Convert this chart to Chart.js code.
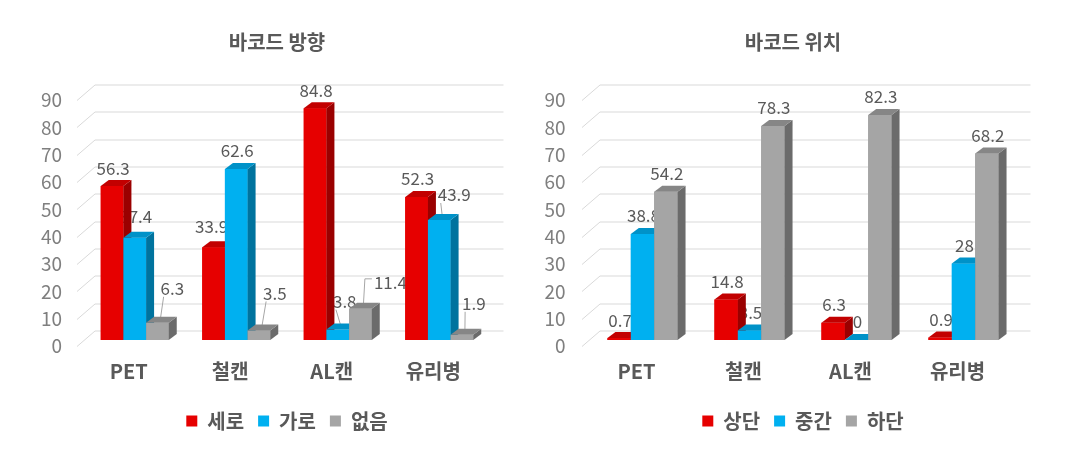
<!DOCTYPE html>
<html>
<head>
<meta charset="utf-8">
<script src="https://cdn.jsdelivr.net/npm/chart.js@4.4.0/dist/chart.umd.min.js"></script>
<style>
  html, body { margin: 0; padding: 0; background: #fff; }
  #wrap { position: relative; width: 1080px; height: 459px; }
  canvas { position: absolute; top: 0; }
</style>
</head>
<body>
<div id="wrap">
  <canvas id="chart-direction" width="540" height="459" style="left:0"></canvas>
  <canvas id="chart-position" width="540" height="459" style="left:540px"></canvas>
</div>
<script>
// 공통 카테고리
var categories = ['PET', '철캔', 'AL캔', '유리병'];

// 바코드 방향 (%)
var directionTitle = '바코드 방향';
var directionSeries = ['세로', '가로', '없음'];
var directionVertical = [56.3, 33.9, 84.8, 52.3];
var directionHorizontal = [37.4, 62.6, 3.8, 43.9];
var directionNone = [6.3, 3.5, 11.4, 1.9];

// 바코드 위치 (%)
var positionTitle = '바코드 위치';
var positionSeries = ['상단', '중간', '하단'];
var positionTop = [0.7, 14.8, 6.3, 0.9];
var positionMiddle = [38.8, 3.5, 0, 28];
var positionBottom = [54.2, 78.3, 82.3, 68.2];

// y축 눈금
var yMax = 90;
var yStep = 10;

var FONT = "'Noto Sans CJK KR', 'Noto Sans', sans-serif";
var frontColors = ['#e60000', '#00b0f0', '#a5a5a5'];
var sideColors = ['#9a0000', '#00739e', '#6b6b6b'];
var topColors = ['#c20000', '#0092c8', '#868686'];

function fillPoly(ctx, pts, color) {
  ctx.fillStyle = color;
  ctx.beginPath();
  ctx.moveTo(pts[0][0], pts[0][1]);
  for (var i = 1; i < pts.length; i++) ctx.lineTo(pts[i][0], pts[i][1]);
  ctx.closePath();
  ctx.fill();
}

// 3D 막대, 뒷벽 눈금선, 데이터 레이블, 제목
var bar3d = {
  id: 'bar3d',
  beforeDatasetsDraw: function (chart) {
    var o = chart.options.plugins.bar3d;
    var ctx = chart.ctx, area = chart.chartArea, y = chart.scales.y;
    ctx.save();
    ctx.strokeStyle = '#d9d9d9';
    ctx.lineWidth = 1;
    y.ticks.forEach(function (t) {
      var py = Math.round(y.getPixelForValue(t.value)) + 0.5;
      ctx.beginPath();
      ctx.moveTo(area.left + o.gridFront, py + o.gridDown);
      ctx.lineTo(area.left + o.gridBack, py - o.gridUp);
      ctx.lineTo(area.right + o.gridRight, py - o.gridUp);
      ctx.stroke();
    });

    // 레이블은 막대 아래에 그림 (원본처럼 막대에 일부 가려짐)
    ctx.font = '17px ' + FONT;
    ctx.textAlign = 'center';
    ctx.textBaseline = 'middle';
    chart.data.datasets.forEach(function (ds, s) {
      chart.getDatasetMeta(s).data.forEach(function (bar, c) {
        var off = o.labelShift ? o.labelShift[s][c] : [0, 0];
        var text = String(ds.data[c]);
        var lx = bar.x + 1 + off[0];
        var ly = bar.y - 18 + off[1];
        var w = ctx.measureText(text).width;
        if (off[2]) {
          ctx.strokeStyle = '#a6a6a6';
          ctx.beginPath();
          if (off[0] > 20) {
            ctx.moveTo(lx - w / 2 - 2, ly - 4);
            ctx.lineTo(lx - w / 2 - 9, ly - 4);
          } else {
            ctx.moveTo(lx - w / 2 + 3, ly + 8);
          }
          ctx.lineTo(bar.x + 3, bar.y - 4);
          ctx.stroke();
        }
        ctx.fillStyle = '#595959';
        ctx.fillText(text, lx, ly);
      });
    });
    ctx.restore();
  },
  afterDatasetsDraw: function (chart) {
    var o = chart.options.plugins.bar3d, ctx = chart.ctx;
    var metas = chart.data.datasets.map(function (ds, s) { return chart.getDatasetMeta(s).data; });
    ctx.save();
    for (var c = 0; c < chart.data.labels.length; c++) {
      for (var s = 0; s < metas.length; s++) {
        var bar = metas[s][c];
        var l = bar.x - bar.width / 2, r = bar.x + bar.width / 2, t = bar.y, b = bar.base;
        fillPoly(ctx, [[l, b], [l, t], [r, t], [r, b]], frontColors[s]);
        fillPoly(ctx, [[r, b], [r, t], [r + o.dx, t - o.dy], [r + o.dx, b - o.dy]], sideColors[s]);
        fillPoly(ctx, [[l, t], [r, t], [r + o.dx, t - o.dy], [l + o.dx, t - o.dy]], topColors[s]);
      }
    }
    ctx.restore();
  },
  afterDraw: function (chart) {
    var o = chart.options.plugins.bar3d, ctx = chart.ctx, area = chart.chartArea;
    ctx.save();
    ctx.font = 'bold 20px ' + FONT;
    ctx.fillStyle = '#595959';
    ctx.textAlign = 'center';
    ctx.textBaseline = 'middle';
    ctx.fillText(o.title, (area.left + area.right) / 2 + o.titleDx, o.titleY);
    ctx.restore();
  }
};

function makeChart(id, title, seriesNames, seriesValues, geom) {
  var datasets = seriesNames.map(function (name, i) {
    return {
      label: name,
      data: seriesValues[i],
      backgroundColor: frontColors[i],
      borderWidth: 0,
      categoryPercentage: geom.catPct,
      barPercentage: 1
    };
  });
  return new Chart(document.getElementById(id), {
    type: 'bar',
    data: { labels: categories, datasets: datasets },
    plugins: [bar3d],
    options: {
      responsive: false,
      animation: false,
      devicePixelRatio: 1,
      layout: { padding: { left: 0, right: geom.padRight, top: 94, bottom: 18 } },
      scales: {
        x: {
          grid: { display: false, drawTicks: false },
          border: { display: false },
          ticks: { padding: 19, labelOffset: -6, color: '#595959', font: { family: FONT, size: 20, weight: 'bold' } },
          afterFit: function (scale) { scale.height = 57; }
        },
        y: {
          min: 0,
          max: yMax,
          grid: { display: false, drawTicks: false },
          border: { display: false },
          ticks: { stepSize: yStep, padding: geom.tickPad, labelOffset: 6, color: '#7f7f7f', font: { family: FONT, size: 19 } },
          afterFit: function (scale) { scale.width = geom.axisWidth; }
        }
      },
      plugins: {
        title: { display: false },
        tooltip: { enabled: false },
        legend: {
          position: 'bottom',
          fullSize: false,
          labels: {
            boxWidth: 11,
            boxHeight: 11,
            padding: 14,
            color: '#595959',
            font: { family: FONT, size: 20, weight: 'bold' }
          }
        },
        bar3d: {
          title: title,
          titleDx: -10,
          titleY: 42,
          dx: 8,
          dy: 6,
          gridFront: -7,
          gridBack: 11,
          gridDown: 6,
          gridUp: 9.5,
          gridRight: 13.5,
          labelShift: geom.labelShift
        }
      }
    }
  });
}

makeChart('chart-direction', directionTitle, directionSeries,
  [directionVertical, directionHorizontal, directionNone],
  {
    catPct: 0.67, padRight: 50, axisWidth: 84, tickPad: 22,
    // [dx, dy, 지시선]
    labelShift: [
      [[0, 0, 0], [-3, -3, 0], [0, 0, 0], [0, 0, 0]],
      [[0, -3, 0], [0, 0, 0], [6, -10, 1], [14, -7, 1]],
      [[14, -16, 1], [15, -19, 1], [29, -8, 1], [11, -13, 1]]
    ]
  });

makeChart('chart-position', positionTitle, positionSeries,
  [positionTop, positionMiddle, positionBottom],
  { catPct: 0.655, padRight: 63, axisWidth: 49, tickPad: 23.5, labelShift: null });
</script>
</body>
</html>
